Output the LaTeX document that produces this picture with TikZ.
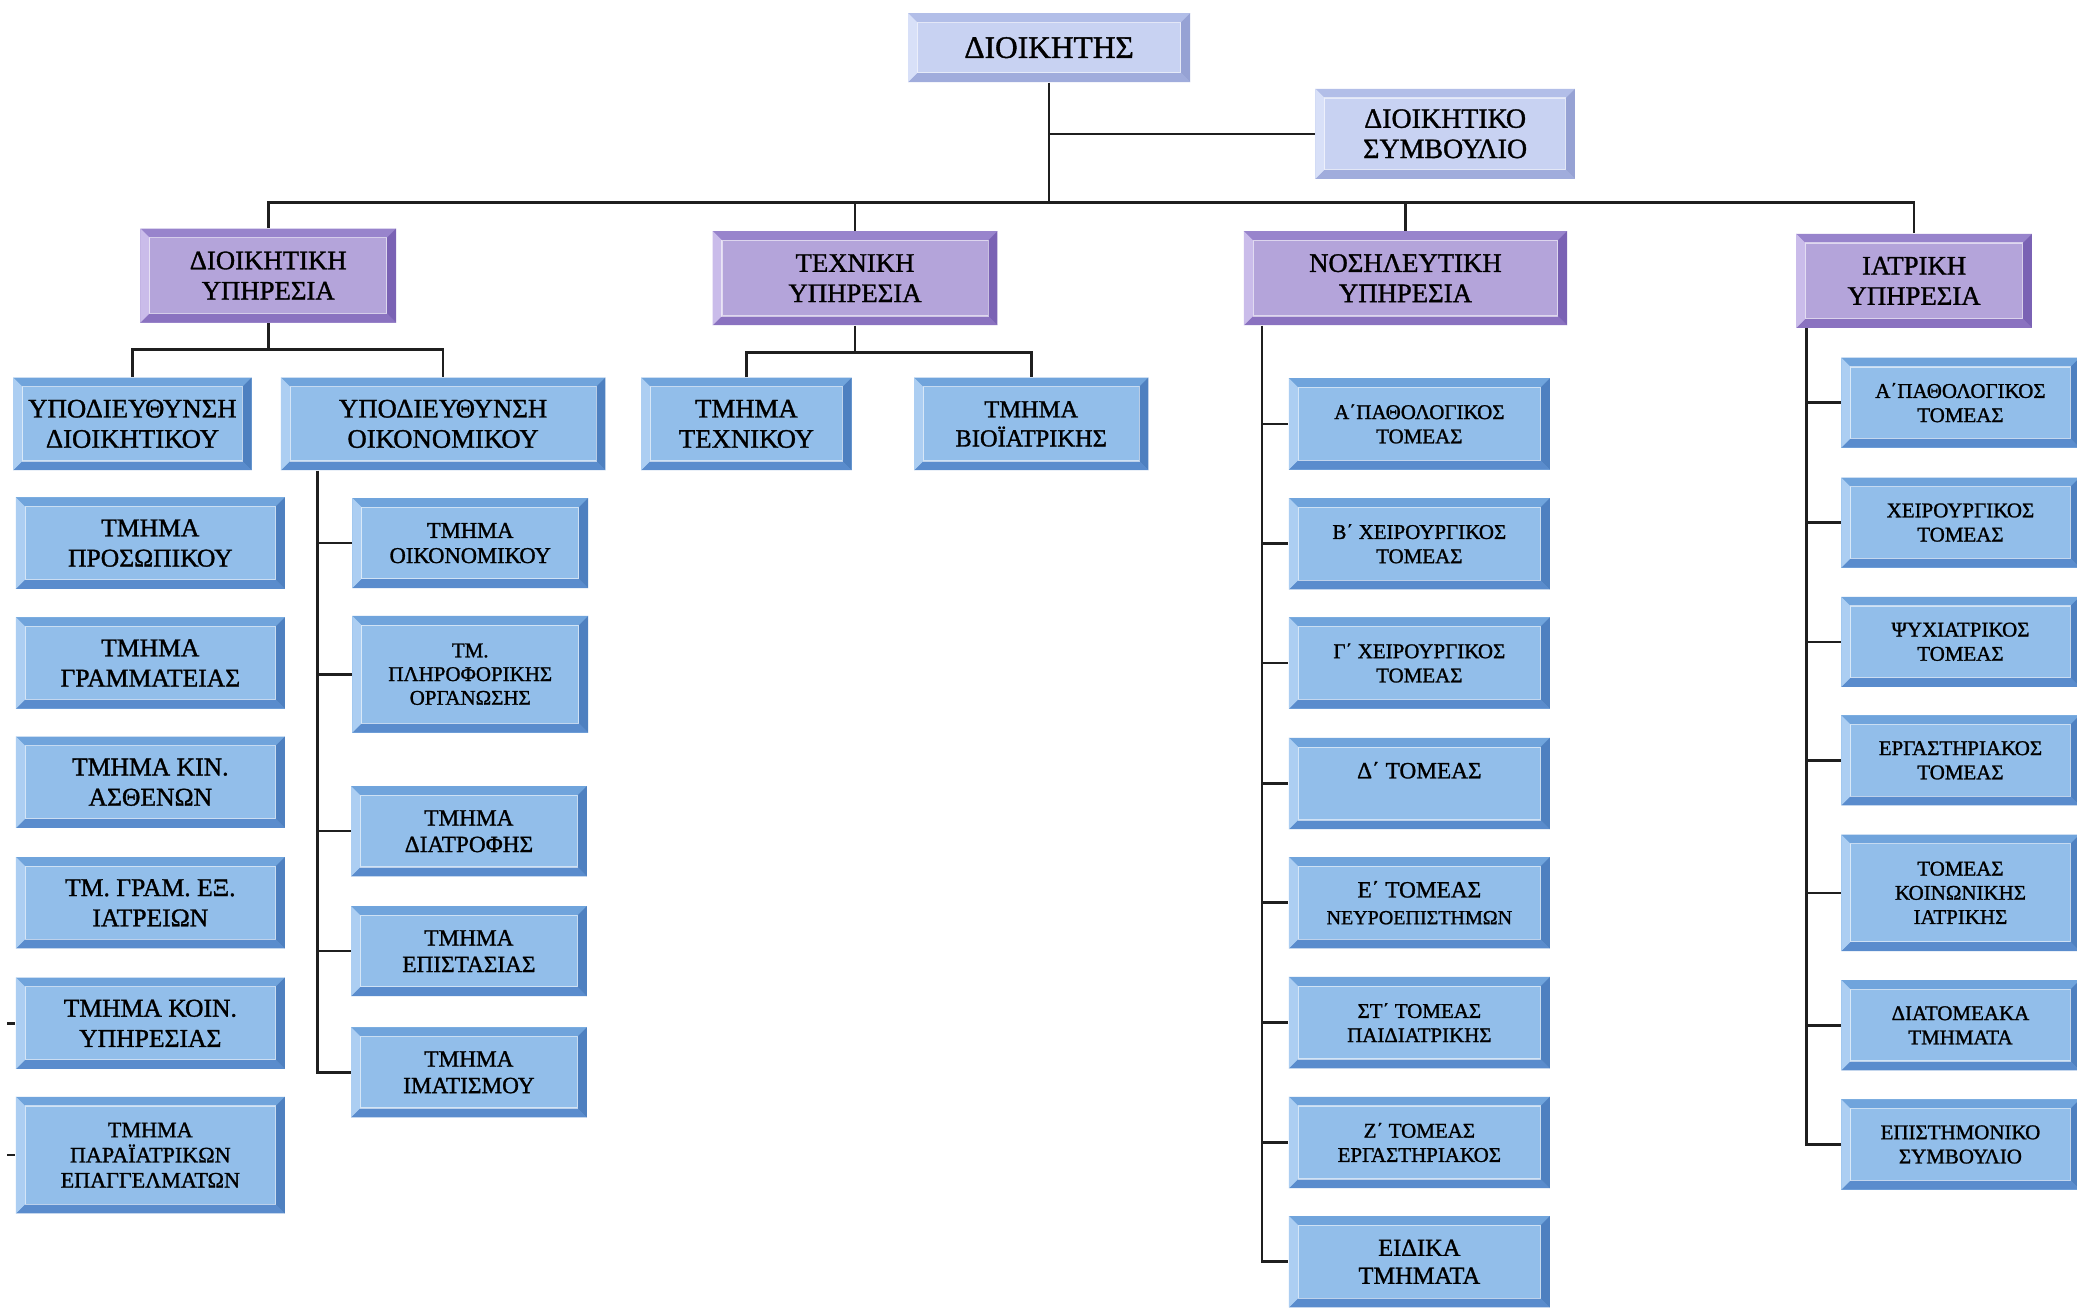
\documentclass[tikz,border=0pt]{standalone}
\usepackage{fontspec}
\setmainfont{Liberation Serif}[FakeBold=1.2]
\definecolor{lavface}{RGB}{200, 210, 242}
\definecolor{lavtop}{RGB}{178, 190, 232}
\definecolor{lavbot}{RGB}{160, 172, 220}
\definecolor{lavleft}{RGB}{216, 224, 248}
\definecolor{lavright}{RGB}{150, 162, 212}
\definecolor{purface}{RGB}{180, 164, 218}
\definecolor{purtop}{RGB}{152, 132, 204}
\definecolor{purbot}{RGB}{138, 114, 192}
\definecolor{purleft}{RGB}{202, 188, 234}
\definecolor{purright}{RGB}{122, 98, 180}
\definecolor{bluface}{RGB}{146, 190, 234}
\definecolor{blutop}{RGB}{112, 164, 220}
\definecolor{blubot}{RGB}{90, 140, 205}
\definecolor{bluleft}{RGB}{172, 206, 242}
\definecolor{bluright}{RGB}{78, 128, 192}
\newcommand{\bevw}{0.14cm}

\tikzset{
  bevel/.style={fill=#1face, draw=none, path picture={
      \path (path picture bounding box.north west) coordinate (onw)
            (path picture bounding box.north east) coordinate (one)
            (path picture bounding box.south east) coordinate (ose)
            (path picture bounding box.south west) coordinate (osw);
      \path (onw) ++(\bevw,-\bevw) coordinate (inw)
            (one) ++(-\bevw,-\bevw) coordinate (ine)
            (ose) ++(-\bevw,\bevw) coordinate (ise)
            (osw) ++(\bevw,\bevw) coordinate (isw);
      \fill[#1top] (onw) -- (one) -- (ine) -- (inw) -- cycle;
      \fill[#1bot] (osw) -- (ose) -- (ise) -- (isw) -- cycle;
      \fill[#1left] (onw) -- (inw) -- (isw) -- (osw) -- cycle;
      \fill[#1right] (one) -- (ine) -- (ise) -- (ose) -- cycle;
      \draw[white, opacity=0.6, line width=0.5pt] (inw) rectangle (ise);
    }},
  headbox/.style={bevel=lav, align=center, inner sep=0pt, font=\fontsize{12}{13}\selectfont},
  svcbox/.style={bevel=pur, align=center, inner sep=0pt, minimum height=1.42cm, font=\fontsize{11.5}{13}\selectfont},
  subbox/.style={bevel=blu, align=center, inner sep=0pt, minimum height=1.40cm, font=\fontsize{11.5}{13}\selectfont},
  deptbox/.style={bevel=blu, align=center, inner sep=0pt, minimum width=4.06cm, minimum height=1.38cm, font=\fontsize{11}{13}\selectfont},
  econbox/.style={bevel=blu, align=center, inner sep=0pt, minimum width=3.56cm, minimum height=1.36cm, font=\fontsize{10}{11.4}\selectfont},
  secbox/.style={bevel=blu, align=center, inner sep=0pt, minimum height=1.38cm, font=\fontsize{9}{10.4}\selectfont},
  conn/.style={draw=black!88, line width=1.1pt},
}

\begin{document}
\begin{tikzpicture}
  \path[use as bounding box, fill=white] (0,0) rectangle (31.36,-19.74);

  % Top level
  \node[headbox, minimum width=4.26cm, minimum height=1.04cm, font=\fontsize{13.5}{14}\selectfont] (dioikitis) at (15.84,-0.72) {ΔΙΟΙΚΗΤΗΣ};
  \node[headbox, minimum width=3.92cm, minimum height=1.36cm] (dsymv) at (21.82,-2.02) {ΔΙΟΙΚΗΤΙΚΟ\\ΣΥΜΒΟΥΛΙΟ};

  % Services
  \node[svcbox, minimum width=3.86cm] (dioikYp) at (4.05,-4.16) {ΔΙΟΙΚΗΤΙΚΗ\\ΥΠΗΡΕΣΙΑ};
  \node[svcbox, minimum width=4.30cm] (texnYp) at (12.91,-4.20) {ΤΕΧΝΙΚΗ\\ΥΠΗΡΕΣΙΑ};
  \node[svcbox, minimum width=4.88cm] (nosYp) at (21.22,-4.20) {ΝΟΣΗΛΕΥΤΙΚΗ\\ΥΠΗΡΕΣΙΑ};
  \node[svcbox, minimum width=3.56cm] (iatrYp) at (28.90,-4.24) {ΙΑΤΡΙΚΗ\\ΥΠΗΡΕΣΙΑ};

  \coordinate (bus) at (0,-3.06);
  \draw[conn] (dioikitis.south) -- (dioikitis.south |- bus);
  \draw[conn] (dioikitis.south |- dsymv.west) -- (dsymv.west);
  \draw[conn] (dioikYp.north) |- (iatrYp.north |- bus) -- (iatrYp.north);
  \draw[conn] (texnYp.north) -- (texnYp.north |- bus);
  \draw[conn] (nosYp.north) -- (nosYp.north |- bus);

  % Administrative service
  \node[subbox, minimum width=3.60cm] (ypDioik) at (2.00,-6.40) {ΥΠΟΔΙΕΥΘΥΝΣΗ\\ΔΙΟΙΚΗΤΙΚΟΥ};
  \node[subbox, minimum width=4.90cm] (ypOik) at (6.69,-6.40) {ΥΠΟΔΙΕΥΘΥΝΣΗ\\ΟΙΚΟΝΟΜΙΚΟΥ};
  \coordinate (dioikBar) at (0,-5.28);
  \draw[conn] (dioikYp.south) -- (dioikYp.south |- dioikBar);
  \draw[conn] (ypDioik.north) |- (ypOik.north |- dioikBar) -- (ypOik.north);

  \node[deptbox] (tmPros) at (2.27,-8.20) {ΤΜΗΜΑ\\ΠΡΟΣΩΠΙΚΟΥ};
  \node[deptbox] (tmGram) at (2.27,-10.01) {ΤΜΗΜΑ\\ΓΡΑΜΜΑΤΕΙΑΣ};
  \node[deptbox] (tmKin) at (2.27,-11.81) {ΤΜΗΜΑ ΚΙΝ.\\ΑΣΘΕΝΩΝ};
  \node[deptbox] (tmExIatr) at (2.27,-13.63) {ΤΜ. ΓΡΑΜ. ΕΞ.\\ΙΑΤΡΕΙΩΝ};
  \node[deptbox] (tmKoin) at (2.27,-15.45) {ΤΜΗΜΑ ΚΟΙΝ.\\ΥΠΗΡΕΣΙΑΣ};
  \node[deptbox, minimum height=1.76cm, font=\fontsize{9.5}{10.8}\selectfont] (tmPara) at (2.27,-17.44) {ΤΜΗΜΑ\\ΠΑΡΑΪΑΤΡΙΚΩΝ\\ΕΠΑΓΓΕΛΜΑΤΩΝ};
  \coordinate (koinStub) at ([xshift=-0.12cm]tmKoin.west);
  \coordinate (paraStub) at ([xshift=-0.12cm]tmPara.west);
  \draw[conn] (koinStub) -- (tmKoin.west);
  \draw[conn] (paraStub) -- (tmPara.west);

  \node[econbox, font=\fontsize{9.7}{10.8}\selectfont] (tmOik) at (7.10,-8.20) {ΤΜΗΜΑ\\ΟΙΚΟΝΟΜΙΚΟΥ};
  \node[econbox, minimum height=1.76cm, font=\fontsize{9}{10.2}\selectfont] (tmPlir) at (7.10,-10.18) {ΤΜ.\\ΠΛΗΡΟΦΟΡΙΚΗΣ\\ΟΡΓΑΝΩΣΗΣ};
  \node[econbox] (tmDiatr) at (7.08,-12.55) {ΤΜΗΜΑ\\ΔΙΑΤΡΟΦΗΣ};
  \node[econbox] (tmEpist) at (7.08,-14.36) {ΤΜΗΜΑ\\ΕΠΙΣΤΑΣΙΑΣ};
  \node[econbox] (tmImat) at (7.08,-16.19) {ΤΜΗΜΑ\\ΙΜΑΤΙΣΜΟΥ};
  \coordinate (oikTrunk) at ([xshift=0.56cm]ypOik.south west);
  \draw[conn] (oikTrunk) |- (tmImat.west);
  \draw[conn] (oikTrunk |- tmOik.west) -- (tmOik.west);
  \draw[conn] (oikTrunk |- tmPlir.west) -- (tmPlir.west);
  \draw[conn] (oikTrunk |- tmDiatr.west) -- (tmDiatr.west);
  \draw[conn] (oikTrunk |- tmEpist.west) -- (tmEpist.west);

  % Technical service
  \node[subbox, minimum width=3.18cm] (tmTexn) at (11.27,-6.40) {ΤΜΗΜΑ\\ΤΕΧΝΙΚΟΥ};
  \node[subbox, minimum width=3.54cm, font=\fontsize{10.5}{12.5}\selectfont] (tmBio) at (15.57,-6.40) {ΤΜΗΜΑ\\ΒΙΟΪΑΤΡΙΚΗΣ};
  \coordinate (texnBar) at (0,-5.32);
  \draw[conn] (texnYp.south) -- (texnYp.south |- texnBar);
  \draw[conn] (tmTexn.north) |- (tmBio.north |- texnBar) -- (tmBio.north);

  % Nursing service
  \node[secbox, minimum width=3.94cm] (nA) at (21.43,-6.40) {Α΄ΠΑΘΟΛΟΓΙΚΟΣ\\ΤΟΜΕΑΣ};
  \node[secbox, minimum width=3.94cm] (nB) at (21.43,-8.21) {Β΄ ΧΕΙΡΟΥΡΓΙΚΟΣ\\ΤΟΜΕΑΣ};
  \node[secbox, minimum width=3.94cm] (nG) at (21.43,-10.01) {Γ΄ ΧΕΙΡΟΥΡΓΙΚΟΣ\\ΤΟΜΕΑΣ};
  \node[secbox, minimum width=3.94cm, font=\fontsize{10}{11.5}\selectfont] (nD) at (21.43,-11.83) {Δ΄ ΤΟΜΕΑΣ\\~};
  \node[secbox, minimum width=3.94cm, font=\fontsize{10}{11.5}\selectfont] (nE) at (21.43,-13.63) {Ε΄ ΤΟΜΕΑΣ\\{\fontsize{8.6}{10}\selectfont ΝΕΥΡΟΕΠΙΣΤΗΜΩΝ}};
  \node[secbox, minimum width=3.94cm] (nST) at (21.43,-15.44) {ΣΤ΄ ΤΟΜΕΑΣ\\ΠΑΙΔΙΑΤΡΙΚΗΣ};
  \node[secbox, minimum width=3.94cm] (nZ) at (21.43,-17.25) {Ζ΄ ΤΟΜΕΑΣ\\ΕΡΓΑΣΤΗΡΙΑΚΟΣ};
  \node[secbox, minimum width=3.94cm, font=\fontsize{10.5}{12}\selectfont] (nEid) at (21.43,-19.05) {ΕΙΔΙΚΑ\\ΤΜΗΜΑΤΑ};
  \coordinate (nosTrunk) at ([xshift=0.28cm]nosYp.south west);
  \draw[conn] (nosTrunk) |- (nEid.west);
  \draw[conn] (nosTrunk |- nA.west) -- (nA.west);
  \draw[conn] (nosTrunk |- nB.west) -- (nB.west);
  \draw[conn] (nosTrunk |- nG.west) -- (nG.west);
  \draw[conn] (nosTrunk |- nD.west) -- (nD.west);
  \draw[conn] (nosTrunk |- nE.west) -- (nE.west);
  \draw[conn] (nosTrunk |- nST.west) -- (nST.west);
  \draw[conn] (nosTrunk |- nZ.west) -- (nZ.west);

  % Medical service
  \node[secbox, minimum width=3.60cm, minimum height=1.36cm] (mA) at (29.60,-6.08) {Α΄ΠΑΘΟΛΟΓΙΚΟΣ\\ΤΟΜΕΑΣ};
  \node[secbox, minimum width=3.60cm, minimum height=1.36cm] (mX) at (29.60,-7.89) {ΧΕΙΡΟΥΡΓΙΚΟΣ\\ΤΟΜΕΑΣ};
  \node[secbox, minimum width=3.60cm, minimum height=1.36cm] (mPsy) at (29.60,-9.69) {ΨΥΧΙΑΤΡΙΚΟΣ\\ΤΟΜΕΑΣ};
  \node[secbox, minimum width=3.60cm, minimum height=1.36cm] (mErg) at (29.60,-11.48) {ΕΡΓΑΣΤΗΡΙΑΚΟΣ\\ΤΟΜΕΑΣ};
  \node[secbox, minimum width=3.60cm, minimum height=1.76cm] (mKoin) at (29.60,-13.48) {ΤΟΜΕΑΣ\\ΚΟΙΝΩΝΙΚΗΣ\\ΙΑΤΡΙΚΗΣ};
  \node[secbox, minimum width=3.60cm, minimum height=1.36cm] (mDiat) at (29.60,-15.48) {ΔΙΑΤΟΜΕΑΚΑ\\ΤΜΗΜΑΤΑ};
  \node[secbox, minimum width=3.60cm, minimum height=1.36cm] (mEpist) at (29.60,-17.28) {ΕΠΙΣΤΗΜΟΝΙΚΟ\\ΣΥΜΒΟΥΛΙΟ};
  \coordinate (iatrTrunk) at ([xshift=0.16cm]iatrYp.south west);
  \draw[conn] (iatrTrunk) |- (mEpist.west);
  \draw[conn] (iatrTrunk |- mA.west) -- (mA.west);
  \draw[conn] (iatrTrunk |- mX.west) -- (mX.west);
  \draw[conn] (iatrTrunk |- mPsy.west) -- (mPsy.west);
  \draw[conn] (iatrTrunk |- mErg.west) -- (mErg.west);
  \draw[conn] (iatrTrunk |- mKoin.west) -- (mKoin.west);
  \draw[conn] (iatrTrunk |- mDiat.west) -- (mDiat.west);
\end{tikzpicture}
\end{document}
